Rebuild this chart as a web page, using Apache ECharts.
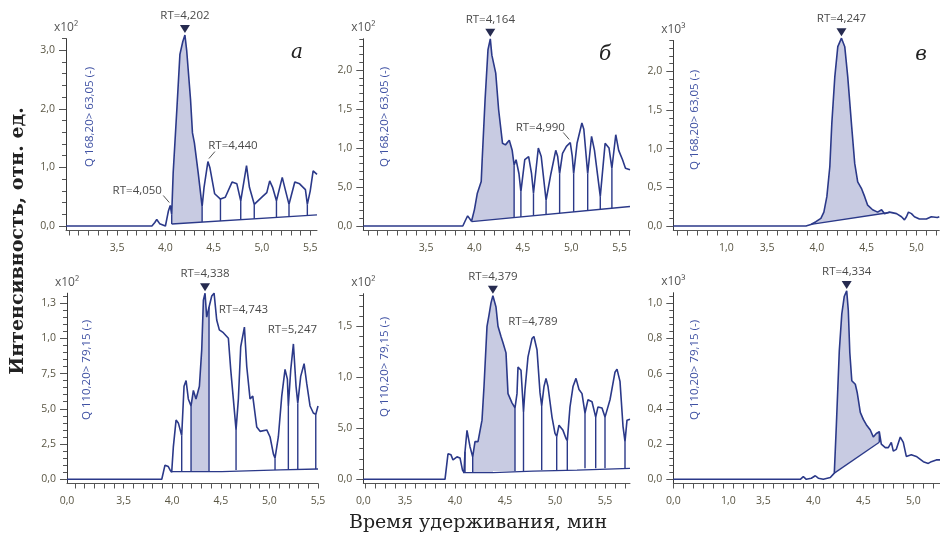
<!DOCTYPE html>
<html>
<head>
<meta charset="utf-8">
<script src="https://cdn.jsdelivr.net/npm/echarts@6/dist/echarts.min.js"></script>
<style>
  html, body { margin: 0; padding: 0; background: #fff; }
  #chart { width: 940px; height: 538px; }
</style>
</head>
<body>
<div id="chart"></div>
<script>
// MRM chromatograms: retention time (min) vs. intensity (scaled units, see x10^n).
// Top row: Q 168,20>63,05; bottom row: Q 110,20>79,15.

// ---- traces [time, intensity] ----
const traceTopA = [[2.97,0],[3.86,0],[3.89,0.06],[3.91,0.11],[3.94,0.04],[3.96,0.01],[4.0,0],[4.03,0.25],[4.05,0.35],[4.065,0.2],[4.08,0.9],[4.12,2.04],[4.15,2.93],[4.18,3.15],[4.202,3.26],[4.22,3.0],[4.26,2.16],[4.28,1.59],[4.30,1.42],[4.34,0.9],[4.38,0.33],[4.40,0.66],[4.44,1.10],[4.46,1.0],[4.51,0.55],[4.57,0.46],[4.62,0.49],[4.69,0.75],[4.74,0.72],[4.78,0.43],[4.84,1.03],[4.87,0.66],[4.92,0.37],[5.01,0.51],[5.05,0.57],[5.08,0.77],[5.11,0.66],[5.15,0.43],[5.21,0.83],[5.24,0.63],[5.28,0.37],[5.34,0.75],[5.39,0.72],[5.45,0.62],[5.47,0.37],[5.50,0.60],[5.53,0.94],[5.57,0.88]];
const traceTopB = [[2.852,0],[3.88,0],[3.91,0.08],[3.93,0.13],[3.97,0.06],[4.0,0.21],[4.03,0.42],[4.07,0.57],[4.08,0.85],[4.11,1.62],[4.14,2.26],[4.164,2.40],[4.18,2.19],[4.22,1.96],[4.25,1.49],[4.29,1.06],[4.32,1.04],[4.36,1.10],[4.39,0.97],[4.41,0.78],[4.43,0.85],[4.46,0.67],[4.48,0.44],[4.52,0.85],[4.56,0.89],[4.59,0.67],[4.61,0.42],[4.66,1.0],[4.69,0.89],[4.74,0.33],[4.79,0.67],[4.84,0.97],[4.86,0.89],[4.88,0.67],[4.91,0.93],[4.95,1.02],[4.99,1.07],[5.01,0.90],[5.025,0.67],[5.06,1.06],[5.11,1.32],[5.13,1.24],[5.17,0.67],[5.21,1.15],[5.24,0.97],[5.30,0.38],[5.35,1.06],[5.39,1.0],[5.42,0.74],[5.46,1.17],[5.49,0.97],[5.53,0.85],[5.56,0.74],[5.607,0.72]];
const traceTopC = [[2.557,0],[3.89,0],[3.94,0.02],[3.99,0.056],[4.04,0.10],[4.07,0.18],[4.10,0.38],[4.13,0.77],[4.15,1.33],[4.18,1.93],[4.21,2.32],[4.247,2.43],[4.28,2.32],[4.31,1.93],[4.35,1.28],[4.38,0.81],[4.41,0.57],[4.45,0.48],[4.48,0.38],[4.51,0.27],[4.56,0.21],[4.61,0.18],[4.65,0.21],[4.68,0.16],[4.73,0.18],[4.80,0.16],[4.85,0.12],[4.88,0.08],[4.90,0.12],[4.92,0.18],[4.95,0.16],[4.98,0.12],[5.03,0.09],[5.10,0.09],[5.15,0.12],[5.21,0.11],[5.23,0.12]];
const traceBotA = [[2.918,0],[3.893,0],[3.926,0.10],[3.96,0.09],[3.978,0.066],[3.995,0.05],[4.012,0.23],[4.04,0.42],[4.063,0.40],[4.098,0.31],[4.122,0.66],[4.143,0.70],[4.166,0.57],[4.194,0.52],[4.218,0.63],[4.245,0.57],[4.28,0.66],[4.304,0.92],[4.321,1.27],[4.338,1.32],[4.355,1.15],[4.379,1.22],[4.407,1.30],[4.431,1.32],[4.458,1.13],[4.485,1.06],[4.526,1.04],[4.578,1.0],[4.602,0.78],[4.629,0.57],[4.657,0.35],[4.681,0.57],[4.705,0.94],[4.743,1.08],[4.767,0.80],[4.801,0.57],[4.829,0.59],[4.87,0.37],[4.904,0.34],[4.973,0.35],[5.007,0.30],[5.041,0.18],[5.058,0.15],[5.092,0.30],[5.127,0.59],[5.161,0.78],[5.185,0.71],[5.195,0.52],[5.22,0.78],[5.247,0.96],[5.274,0.66],[5.292,0.54],[5.322,0.73],[5.357,0.82],[5.384,0.68],[5.418,0.52],[5.452,0.47],[5.477,0.46],[5.50,0.52]];
const traceBotB = [[3.083,0],[3.90,0],[3.93,0.25],[3.96,0.24],[3.98,0.19],[4.02,0.22],[4.05,0.21],[4.075,0.09],[4.09,0.065],[4.10,0.27],[4.12,0.48],[4.15,0.32],[4.177,0.22],[4.20,0.37],[4.23,0.37],[4.27,0.58],[4.29,0.91],[4.32,1.50],[4.34,1.61],[4.36,1.73],[4.379,1.80],[4.41,1.69],[4.43,1.50],[4.46,1.40],[4.48,1.34],[4.51,1.24],[4.53,0.84],[4.57,0.75],[4.60,0.70],[4.62,0.84],[4.63,1.10],[4.66,1.07],[4.685,0.66],[4.70,0.88],[4.73,1.20],[4.77,1.38],[4.789,1.40],[4.82,1.27],[4.85,0.85],[4.867,0.72],[4.89,0.91],[4.91,0.99],[4.93,0.91],[4.97,0.61],[5.0,0.45],[5.017,0.42],[5.04,0.53],[5.08,0.48],[5.11,0.40],[5.123,0.38],[5.15,0.71],[5.18,0.91],[5.21,0.99],[5.24,0.88],[5.27,0.84],[5.30,0.65],[5.33,0.78],[5.37,0.76],[5.407,0.61],[5.43,0.71],[5.47,0.70],[5.50,0.61],[5.55,0.78],[5.60,1.05],[5.62,1.08],[5.65,0.96],[5.68,0.52],[5.70,0.37],[5.72,0.58],[5.75,0.59]];
const traceBotC = [[2.60,0],[3.87,0],[3.90,0.015],[3.93,0],[3.98,0.006],[4.02,0.02],[4.05,0.006],[4.10,0],[4.17,0.01],[4.21,0.035],[4.23,0.30],[4.26,0.73],[4.285,0.94],[4.31,1.04],[4.334,1.07],[4.35,0.96],[4.365,0.72],[4.385,0.56],[4.42,0.54],[4.44,0.49],[4.47,0.38],[4.50,0.34],[4.53,0.31],[4.57,0.28],[4.60,0.24],[4.63,0.26],[4.66,0.27],[4.68,0.20],[4.72,0.18],[4.75,0.18],[4.78,0.21],[4.80,0.16],[4.83,0.17],[4.87,0.24],[4.90,0.21],[4.93,0.13],[4.98,0.14],[5.03,0.13],[5.10,0.10],[5.15,0.09],[5.18,0.10],[5.23,0.11],[5.267,0.11]];

// ---- integration baselines [time, intensity] ----
const baseTopA = [[4.065,0.034],[5.57,0.19]];
const baseTopB = [[3.97,0.055],[5.607,0.25]];
const baseTopC = [[3.94,0.02],[4.73,0.175]];
const baseBotA = [[3.995,0.054],[4.51,0.054],[4.526,0.066],[5.11,0.066],[5.127,0.073],[5.50,0.073]];
const baseBotB = [[4.08,0.065],[4.38,0.065],[4.38,0.081],[4.78,0.081],[4.78,0.091],[5.22,0.091],[5.22,0.108],[5.75,0.108]];
const baseBotC = [[4.21,0.035],[4.66,0.21]];

// ---- peak boundary drops [time, intensity at trace] ----
const dropsTopA = [[4.065,0.2],[4.38,0.33],[4.57,0.46],[4.78,0.43],[4.92,0.37],[5.15,0.43],[5.28,0.37],[5.47,0.37]];
const dropsTopB = [[4.41,0.78],[4.48,0.44],[4.61,0.42],[4.74,0.33],[4.88,0.67],[5.025,0.67],[5.17,0.67],[5.30,0.38],[5.42,0.74]];
const dropsTopC = [];
const dropsBotA = [[4.098,0.31],[4.194,0.52],[4.379,1.22],[4.657,0.35],[5.058,0.15],[5.195,0.52],[5.292,0.54],[5.477,0.46]];
const dropsBotB = [[4.10,0.27],[4.177,0.22],[4.60,0.70],[4.685,0.66],[4.867,0.72],[5.017,0.42],[5.123,0.38],[5.30,0.65],[5.407,0.61],[5.50,0.61],[5.70,0.37]];
const dropsBotC = [[4.66,0.27]];

// ---- integrated (shaded) peak windows [from, to] ----
const shadeTopA = [4.065, 4.38];
const shadeTopB = [3.97, 4.41];
const shadeTopC = [3.94, 4.73];
const shadeBotA = [4.194, 4.379];
const shadeBotB = [4.177, 4.60];
const shadeBotC = [4.21, 4.66];

// ---- main peak apex and other annotated peaks [RT, intensity] ----
const peakTopA = [4.202, 3.26];
const peakTopB = [4.164, 2.40];
const peakTopC = [4.247, 2.43];
const peakBotA = [4.338, 1.32];
const peakBotB = [4.379, 1.80];
const peakBotC = [4.334, 1.07];
const otherPeaksTopA = [[4.440, 1.10], [4.050, 0.35]];
const otherPeaksTopB = [[4.990, 1.07]];
const otherPeaksBotA = [[4.743, 1.08], [5.247, 0.96]];
const otherPeaksBotB = [[4.789, 1.40]];

// ---- tick labels ----
const yValsTopA = [0, 1, 2, 3];            const yTextTopA = ['0,0', '1,0', '2,0', '3,0'];
const yValsTopB = [0, 0.5, 1, 1.5, 2];     const yTextTopB = ['0,0', '5,0', '1,0', '1,5', '2,0'];
const yValsTopC = [0, 0.5, 1, 1.5, 2];     const yTextTopC = ['0,0', '0,5', '1,0', '1,5', '2,0'];
const yValsBotA = [0, 0.25, 0.5, 0.75, 1, 1.25]; const yTextBotA = ['0,0', '2,5', '5,0', '7,5', '1,0', '1,3'];
const yValsBotB = [0, 0.5, 1, 1.5];        const yTextBotB = ['0,0', '5,0', '1,0', '1,5'];
const yValsBotC = [0, 0.2, 0.4, 0.6, 0.8, 1.0]; const yTextBotC = ['0,0', '0,2', '0,4', '0,6', '0,8', '1,0'];

const xValsTopA = [3.5, 4.0, 4.5, 5.0, 5.5];        const xTextTopA = ['3,5', '4,0', '4,5', '5,0', '5,5'];
const xValsTopB = [3.5, 4.0, 4.5, 5.0, 5.5];        const xTextTopB = ['3,5', '4,0', '4,5', '5,0', '5,5'];
const xValsTopC = [3.09, 3.5, 4.0, 4.5, 5.0];       const xTextTopC = ['1,0', '3,5', '4,0', '4,5', '5,0'];
const xValsBotA = [2.918, 3.5, 4.0, 4.5, 5.0, 5.5]; const xTextBotA = ['0,0', '3,5', '4,0', '4,5', '5,0', '5,5'];
const xValsBotB = [3.083, 3.5, 4.0, 4.5, 5.0, 5.5]; const xTextBotB = ['0,0', '3,5', '4,0', '4,5', '5,0', '5,5'];
const xValsBotC = [2.60, 3.15, 3.5, 4.0, 4.5, 5.0]; const xTextBotC = ['0,0', '1,0', '3,5', '4,0', '4,5', '5,0'];

const channelTop = 'Q 168,20> 63,05 (-)';
const channelBot = 'Q 110,20> 79,15 (-)';

// ---- styling ----
const SANS = "'Open Sans', 'DejaVu Sans', sans-serif";
const SERIF = "'DejaVu Serif', 'Liberation Serif', serif";
const TRACE = '#2b3989';
const FILL = '#c8cbe2';
const AXIS = '#555555';
const TICKTEXT = '#5a5644';
const CHANNEL = '#3f51a3';

// panel frames and axis ranges
const layout = [
  { left: 66,    top: 38.6,  width: 251,   height: 191.9, xMin: 2.97,  xMax: 5.57,  yMin: -0.077, yMax: 3.2,  yMinor: 0.2,  qx: 90,  qy: 117, lx: 297, ly: 53, offs: [[25, -16], [-33, -15]] },
  { left: 363.3, top: 38.8,  width: 266.7, height: 191.7, xMin: 2.852, xMax: 5.607, yMin: -0.058, yMax: 2.4,  yMinor: 0.1,  qx: 385, qy: 117, lx: 605, ly: 55, offs: [[-30, -15]] },
  { left: 673.3, top: 40.5,  width: 266,   height: 190,   xMin: 2.557, xMax: 5.23,  yMin: -0.058, yMax: 2.4,  yMinor: 0.1,  qx: 695, qy: 120, lx: 921, ly: 55, offs: [] },
  { left: 67,    top: 293.2, width: 251,   height: 190.3, xMin: 2.918, xMax: 5.5,   yMin: -0.03,  yMax: 1.32, yMinor: 0.05, qx: 87,  qy: 370, offs: [[-1, -17], [-1, -14]] },
  { left: 363.3, top: 293.7, width: 266.7, height: 189.8, xMin: 3.083, xMax: 5.75,  yMin: -0.041, yMax: 1.82, yMinor: 0.1,  qx: 385, qy: 367, offs: [[-1, -15]] },
  { left: 673.3, top: 292.7, width: 266.7, height: 190.8, xMin: 2.60,  xMax: 5.267, yMin: -0.024, yMax: 1.06, yMinor: 0.04, qx: 695, qy: 370, offs: [] }
];

const panels = [
  { trace: traceTopA, base: baseTopA, drops: dropsTopA, shade: shadeTopA, peak: peakTopA, others: otherPeaksTopA, yVals: yValsTopA, yText: yTextTopA, xVals: xValsTopA, xText: xTextTopA, scale: 'x10²', channel: channelTop, letter: 'а' },
  { trace: traceTopB, base: baseTopB, drops: dropsTopB, shade: shadeTopB, peak: peakTopB, others: otherPeaksTopB, yVals: yValsTopB, yText: yTextTopB, xVals: xValsTopB, xText: xTextTopB, scale: 'x10²', channel: channelTop, letter: 'б' },
  { trace: traceTopC, base: baseTopC, drops: dropsTopC, shade: shadeTopC, peak: peakTopC, others: [],             yVals: yValsTopC, yText: yTextTopC, xVals: xValsTopC, xText: xTextTopC, scale: 'x10³', channel: channelTop, letter: 'в' },
  { trace: traceBotA, base: baseBotA, drops: dropsBotA, shade: shadeBotA, peak: peakBotA, others: otherPeaksBotA, yVals: yValsBotA, yText: yTextBotA, xVals: xValsBotA, xText: xTextBotA, scale: 'x10²', channel: channelBot },
  { trace: traceBotB, base: baseBotB, drops: dropsBotB, shade: shadeBotB, peak: peakBotB, others: otherPeaksBotB, yVals: yValsBotB, yText: yTextBotB, xVals: xValsBotB, xText: xTextBotB, scale: 'x10²', channel: channelBot },
  { trace: traceBotC, base: baseBotC, drops: dropsBotC, shade: shadeBotC, peak: peakBotC, others: [],             yVals: yValsBotC, yText: yTextBotC, xVals: xValsBotC, xText: xTextBotC, scale: 'x10³', channel: channelBot }
];

function rtText(v) { return 'RT=' + v.toFixed(3).replace('.', ','); }

function stepsBetween(lo, hi, step) {
  const out = [];
  const k0 = Math.ceil(lo / step - 1e-9), k1 = Math.floor(hi / step + 1e-9);
  for (let k = k0; k <= k1; k++) out.push(+(k * step).toFixed(4));
  return out;
}

// height of the drawn baseline at time x
function baseAt(base, x) {
  for (let i = 0; i < base.length - 1; i++) {
    const a = base[i], b = base[i + 1];
    if (x >= a[0] && x <= b[0]) {
      if (b[0] === a[0]) return a[1];
      return a[1] + (b[1] - a[1]) * (x - a[0]) / (b[0] - a[0]);
    }
  }
  return x < base[0][0] ? base[0][1] : base[base.length - 1][1];
}

function labelLookup(vals, texts) {
  return function (v) {
    const i = vals.findIndex(t => Math.abs(t - v) < 1e-6);
    return i >= 0 ? texts[i] : '';
  };
}

const grid = [], xAxis = [], yAxis = [], series = [], graphic = [];

panels.forEach(function (p, i) {
  const L = layout[i];
  grid.push({ left: L.left, top: L.top, width: L.width, height: L.height, containLabel: false, outerBoundsMode: 'none' });

  xAxis.push({
    type: 'value', gridIndex: i, min: L.xMin, max: L.xMax,
    axisLine: { show: true, onZero: false, lineStyle: { color: AXIS, width: 1 } },
    axisTick: { show: true, customValues: stepsBetween(L.xMin, L.xMax, 0.1), length: 5, lineStyle: { color: AXIS } },
    axisLabel: { customValues: p.xVals, formatter: labelLookup(p.xVals, p.xText), color: TICKTEXT, fontFamily: SANS, fontSize: 10.5, margin: 12 },
    splitLine: { show: false }
  });

  // labelled axis with minor ticks
  yAxis.push({
    type: 'value', gridIndex: i, position: 'left', min: L.yMin, max: L.yMax,
    axisLine: { show: true, onZero: false, lineStyle: { color: '#3a3a3a', width: 1 } },
    axisTick: { show: true, customValues: stepsBetween(0, L.yMax, L.yMinor), length: 4, lineStyle: { color: AXIS } },
    axisLabel: { customValues: p.yVals, formatter: labelLookup(p.yVals, p.yText), color: TICKTEXT, fontFamily: SANS, fontSize: 10.5, margin: 11 },
    splitLine: { show: false },
    name: p.scale, nameLocation: 'end', nameGap: 5,
    nameTextStyle: { color: '#555', fontFamily: SANS, fontSize: 12, align: 'center' }
  });
  // longer major ticks
  yAxis.push({
    type: 'value', gridIndex: i, position: 'left', min: L.yMin, max: L.yMax,
    axisLine: { show: false },
    axisTick: { show: true, customValues: p.yVals, length: 7, lineStyle: { color: AXIS } },
    axisLabel: { show: false },
    splitLine: { show: false }
  });

  const yi = 2 * i;

  // shaded integrated peak area between trace and baseline
  series.push({
    type: 'custom', coordinateSystem: 'cartesian2d', xAxisIndex: i, yAxisIndex: yi, silent: true, z: 1,
    data: [[p.shade[0], baseAt(p.base, p.shade[0])]],
    renderItem: function (params, api) {
      const s = p.shade[0], e = p.shade[1];
      const pts = p.trace.filter(q => q[0] >= s - 1e-9 && q[0] <= e + 1e-9).map(q => api.coord(q));
      pts.push(api.coord([e, baseAt(p.base, e)]));
      const inner = p.base.filter(q => q[0] > s && q[0] < e).slice().reverse();
      inner.forEach(q => pts.push(api.coord(q)));
      pts.push(api.coord([s, baseAt(p.base, s)]));
      return { type: 'polygon', shape: { points: pts }, style: { fill: FILL, stroke: null } };
    }
  });

  // baseline
  series.push({
    type: 'line', xAxisIndex: i, yAxisIndex: yi, data: p.base, symbol: 'none', silent: true, z: 3,
    lineStyle: { color: TRACE, width: 1.3 }, clip: false
  });

  // vertical peak-boundary drops down to the baseline
  series.push({
    type: 'custom', coordinateSystem: 'cartesian2d', xAxisIndex: i, yAxisIndex: yi, silent: true, z: 3,
    data: p.drops,
    renderItem: function (params, api) {
      const x = api.value(0), y = api.value(1);
      const a = api.coord([x, y]), b = api.coord([x, baseAt(p.base, x)]);
      return { type: 'line', shape: { x1: a[0], y1: a[1], x2: b[0], y2: b[1] }, style: { stroke: TRACE, lineWidth: 1.4 } };
    }
  });

  // chromatogram trace
  series.push({
    type: 'line', xAxisIndex: i, yAxisIndex: yi, data: p.trace, symbol: 'none', silent: true, z: 4,
    lineStyle: { color: TRACE, width: 1.6 }, clip: false
  });

  // apex marker with retention time
  series.push({
    type: 'custom', coordinateSystem: 'cartesian2d', xAxisIndex: i, yAxisIndex: yi, silent: true, z: 5,
    data: [p.peak],
    renderItem: function (params, api) {
      const c = api.coord([api.value(0), api.value(1)]);
      return {
        type: 'group', children: [
          { type: 'polygon', shape: { points: [[c[0] - 5, c[1] - 10], [c[0] + 5, c[1] - 10], [c[0], c[1] - 2]] }, style: { fill: '#262b50' } },
          { type: 'text', x: c[0], y: c[1] - 19, style: { text: rtText(api.value(0)), fill: '#4a4a4a', font: '11.5px ' + SANS, align: 'center', verticalAlign: 'middle', textAlign: 'center', textVerticalAlign: 'middle' } }
        ]
      };
    }
  });

  // other annotated peaks
  if (p.others.length) {
    series.push({
      type: 'custom', coordinateSystem: 'cartesian2d', xAxisIndex: i, yAxisIndex: yi, silent: true, z: 5,
      data: p.others,
      renderItem: function (params, api) {
        const c = api.coord([api.value(0), api.value(1)]);
        const o = L.offs[params.dataIndex];
        const kids = [
          { type: 'text', x: c[0] + o[0], y: c[1] + o[1], style: { text: rtText(api.value(0)), fill: '#4a4a4a', font: '11.5px ' + SANS, align: 'center', verticalAlign: 'middle', textAlign: 'center', textVerticalAlign: 'middle' } }
        ];
        if (Math.abs(o[0]) > 10) {
          const sx = o[0] > 0 ? 1 : -1;
          kids.push({ type: 'line', shape: { x1: c[0] + sx, y1: c[1] - 3, x2: c[0] + sx * 7, y2: c[1] - 10 }, style: { stroke: '#555', lineWidth: 1 } });
        }
        return { type: 'group', children: kids };
      }
    });
  }

  // MRM channel caption
  graphic.push({
    type: 'text', x: L.qx, y: L.qy, rotation: Math.PI / 2, silent: true,
    style: { text: p.channel, fill: CHANNEL, font: '11.5px ' + SANS, align: 'center', verticalAlign: 'middle', textAlign: 'center', textVerticalAlign: 'middle' }
  });
  if (p.letter) {
    graphic.push({
      type: 'text', x: L.lx, y: L.ly, silent: true,
      style: { text: p.letter, fill: '#222', font: 'italic 20px ' + SERIF, align: 'center', verticalAlign: 'middle', textAlign: 'center', textVerticalAlign: 'middle' }
    });
  }
});

graphic.push({
  type: 'text', x: 18, y: 241, rotation: Math.PI / 2, silent: true,
  style: { text: 'Интенсивность, отн. ед.', fill: '#222', font: 'bold 19px ' + SERIF, align: 'center', verticalAlign: 'middle', textAlign: 'center', textVerticalAlign: 'middle' }
});
graphic.push({
  type: 'text', x: 478, y: 523, silent: true,
  style: { text: 'Время удерживания, мин', fill: '#222', font: '19px ' + SERIF, align: 'center', verticalAlign: 'middle', textAlign: 'center', textVerticalAlign: 'middle' }
});

const chart = echarts.init(document.getElementById('chart'), null, { renderer: 'canvas' });
chart.setOption({
  backgroundColor: '#ffffff',
  animation: false,
  grid: grid,
  xAxis: xAxis,
  yAxis: yAxis,
  series: series,
  graphic: graphic
});
</script>
</body>
</html>
